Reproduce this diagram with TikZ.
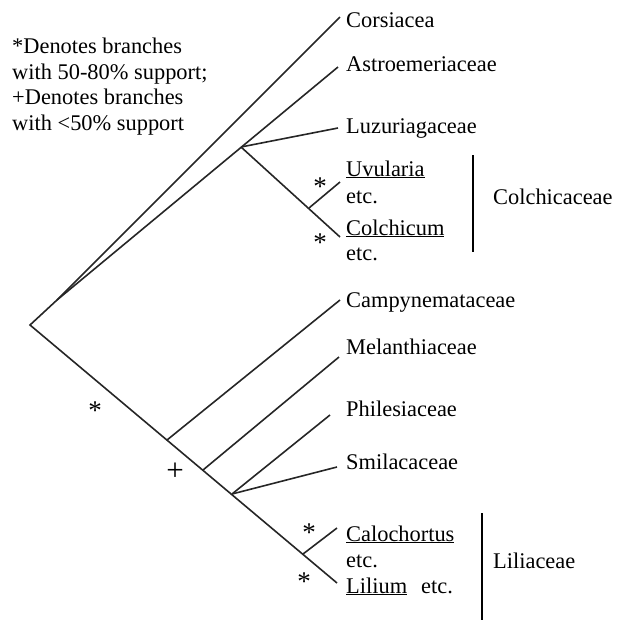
\documentclass[tikz,border=0pt]{standalone}
\usepackage{fontspec}
\setmainfont{Liberation Serif}
\usepackage{xcolor}
\definecolor{BranchGray}{HTML}{262626}

\begin{document}
\begin{tikzpicture}[x=1pt, y=-1pt, every node/.style={font=\fontsize{22.4}{26}\selectfont, inner sep=0pt},
  branch/.style={BranchGray, line width=1.6pt},
  taxon/.style={anchor=base west},
  support/.style={anchor=base, font=\fontsize{27}{27}\selectfont},
  groupbar/.style={black, line width=2.6pt}]
\useasboundingbox (0,0) rectangle (622,622);
% legend
\foreach \txt [count=\i] in {{*Denotes branches},{with 50-80\% support;},{+Denotes branches},{with <50\% support}}
  \node[taxon] (legend\i) at (12, 28+25.5*\i) {\txt};
% internal nodes
\coordinate (root) at (30,325);
\coordinate (nA) at (57,300);
\coordinate (nB) at (241,147);
\coordinate (nC) at (309,208);
\coordinate (n1) at (167,440);
\coordinate (n2) at (203,470);
\coordinate (n3) at (232,494);
\coordinate (n4) at (303,554);
% tips
\coordinate (tCor) at (340,17);
\coordinate (tAst) at (338,67);
\coordinate (tLuz) at (338,128);
\coordinate (tUvu) at (340,182);
\coordinate (tCol) at (340,237);
\coordinate (tCam) at (340,300);
\coordinate (tMel) at (339,357);
\coordinate (tPhi) at (330,415);
\coordinate (tSmi) at (337,467);
\coordinate (tCal) at (337,528);
\coordinate (tLil) at (337,583);
% branches
\draw[branch] (tCor) -- (nA) -- (root) -- (tLil);
\draw[branch] (nA) -- (tAst);
\draw[branch] (nB) -- (tLuz);
\draw[branch] (nB) -- (tCol);
\draw[branch] (nC) -- (tUvu);
\draw[branch] (n1) -- (tCam);
\draw[branch] (n2) -- (tMel);
\draw[branch] (n3) -- (tPhi);
\draw[branch] (n3) -- (tSmi);
\draw[branch] (n4) -- (tCal);
% taxa
\node[taxon] (cor) at (346,27) {Corsiacea};
\node[taxon] (ast) at (346,71) {Astroemeriaceae};
\node[taxon] (luz) at (346,133) {Luzuriagaceae};
\node[taxon] (uvu) at (346,176) {\underline{Uvularia}};
\node[taxon] (uvuetc) at (346,203) {etc.};
\node[taxon] (col) at (346,235) {\underline{Colchicum}};
\node[taxon] (coletc) at (346,260) {etc.};
\node[taxon] (cam) at (346,307) {Campynemataceae};
\node[taxon] (mel) at (346,354) {Melanthiaceae};
\node[taxon] (phi) at (346,416) {Philesiaceae};
\node[taxon] (smi) at (346,469) {Smilacaceae};
\node[taxon] (cal) at (346,541) {\underline{Calochortus}};
\node[taxon] (caletc) at (346,567) {etc.};
\node[taxon] (lil) at (346,593) {\underline{Lilium}};
\node[taxon] (liletc) at (421,593) {etc.};
% families
\draw[groupbar] (473,155) -- (473,252);
\node[taxon] (colchicaceae) at (493,204) {Colchicaceae};
\draw[groupbar] (482,513) -- (482,620);
\node[taxon] (liliaceae) at (493,568) {Liliaceae};
% support marks
\node[support] (s1) at (95,419) {*};
\node[support] (s2) at (320,195) {*};
\node[support] (s3) at (320,251) {*};
\node[support] (s4) at (309,541) {*};
\node[support] (s5) at (304,590) {*};
\node[font=\fontsize{31}{31}\selectfont] (p1) at (175,472) {+};
\end{tikzpicture}
\end{document}
